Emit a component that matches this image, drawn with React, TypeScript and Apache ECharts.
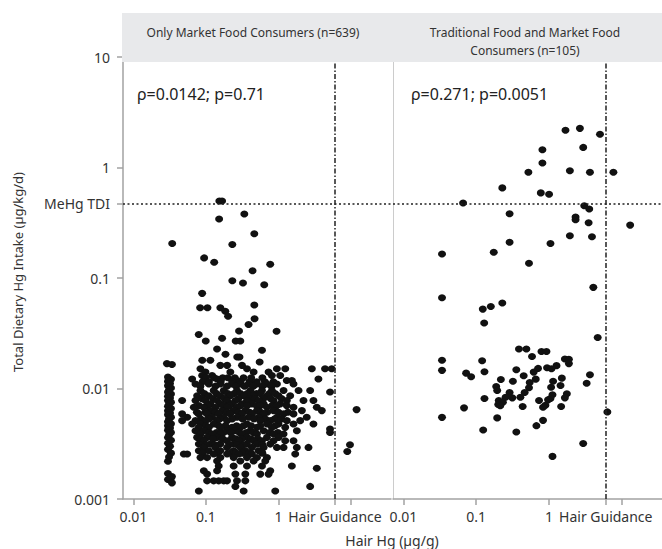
import React, { useEffect, useRef } from 'react';
import * as echarts from 'echarts';

// ---- reference values ----
const TDI = 0.47; // MeHg TDI (µg/kg/d)
const HAIR_GUIDANCE = 6; // µg/g
const yTickValues = [0.001, 0.01, 0.1, TDI, 1, 10];
const xLabelValues = [0.01, 0.1, 1, HAIR_GUIDANCE];
const xTickValues = [0.01, 0.1, 1, HAIR_GUIDANCE, 10];
const panelTitles = [['Only Market Food Consumers (n=639)'], ['Traditional Food and Market Food', 'Consumers (n=105)']];
const correlationTexts = ['ρ=0.0142; p=0.71', 'ρ=0.271; p=0.0051'];
const xTitle = 'Hair Hg (µg/g)';
const yTitle = 'Total Dietary Hg Intake (µg/kg/d)';

// ---- left panel: Only Market Food Consumers ----
const leftSparseHair = [0.153, 0.167, 0.338, 0.152, 0.464, 0.0343, 0.231, 0.0944, 0.13, 0.769, 0.439, 0.231, 0.324, 0.636, 0.0887, 0.0832, 0.105, 0.158, 0.185, 0.202, 0.464, 0.468, 0.387, 0.286, 0.94, 0.0796, 0.0994, 0.167, 0.257, 0.298, 0.1425, 0.592, 11.9, 9.66, 8.87];
const leftSparseIntake = [0.498, 0.498, 0.38, 0.342, 0.251, 0.205, 0.201, 0.152, 0.139, 0.133, 0.1165, 0.0945, 0.09, 0.087, 0.0726, 0.0537, 0.0537, 0.0537, 0.0501, 0.0451, 0.0569, 0.0427, 0.038, 0.0332, 0.033, 0.0308, 0.0269, 0.0285, 0.0269, 0.0269, 0.0228, 0.0222, 0.00644, 0.0031, 0.00269];

const leftStripeIntake = [0.0168, 0.0165, 0.0127, 0.0121, 0.0116, 0.0111, 0.0106, 0.0101, 0.0097, 0.0093, 0.0089, 0.0085, 0.0082, 0.0078, 0.0075, 0.0072, 0.0069, 0.0066, 0.0063, 0.006, 0.0058, 0.0055, 0.0053, 0.005, 0.0048, 0.0046, 0.0044, 0.0042, 0.004, 0.0038, 0.0036, 0.0034, 0.0032, 0.003, 0.0028, 0.0026, 0.0024, 0.0022, 0.0017, 0.0016, 0.00155, 0.0015, 0.0014];
const leftStripeHair = [0.029, 0.034, 0.03, 0.033, 0.03, 0.032, 0.03, 0.033, 0.031, 0.03, 0.033, 0.03, 0.032, 0.03, 0.033, 0.031, 0.03, 0.033, 0.03, 0.032, 0.03, 0.033, 0.031, 0.03, 0.033, 0.03, 0.032, 0.03, 0.033, 0.031, 0.03, 0.033, 0.03, 0.032, 0.03, 0.033, 0.031, 0.03, 0.03, 0.034, 0.033, 0.03, 0.034];

const leftRowIntake = [0.0204, 0.0193, 0.018, 0.0174, 0.0162, 0.0151, 0.0141, 0.0131, 0.0125, 0.0122, 0.0118, 0.0115, 0.011, 0.0105, 0.00959, 0.0093, 0.009, 0.0086, 0.0081, 0.00778, 0.00726, 0.007, 0.00677, 0.00631, 0.0061, 0.00589, 0.00549, 0.0053, 0.00512, 0.00477, 0.0046, 0.00445, 0.0043, 0.00415, 0.004, 0.004, 0.00387, 0.00361, 0.0035, 0.00337, 0.00314, 0.0031, 0.00293, 0.00273, 0.0026, 0.00255, 0.00237, 0.00221, 0.00199, 0.0019, 0.0018, 0.00168, 0.00146, 0.0013, 0.00118];
const leftRowHair = [
  [0.186],
  [0.27, 0.29],
  [0.089, 0.115],
  [0.55],
  [0.158, 0.196, 0.314],
  [0.084, 0.368, 0.95, 1.24, 2.88, 4.38, 5.41],
  [0.0985, 0.217, 0.454, 0.73],
  [0.0887, 0.1216, 0.811, 1.056],
  [0.1, 0.13, 0.17, 0.2, 0.25, 0.33, 0.42, 0.6],
  [0.0646, 0.1425, 3.55],
  [0.268, 1.3, 1.53],
  [0.09, 0.11, 0.16, 0.23, 0.3, 0.4, 0.5, 0.65, 0.85],
  [0.0718, 0.1095, 0.158, 0.229, 0.298, 0.388, 0.505, 0.693, 0.951, 1.61],
  [0.084, 0.135, 0.195, 0.26, 0.34, 0.45, 0.6, 0.8],
  [0.0841, 0.128, 0.176, 0.268, 0.409, 0.592, 0.811, 1.174, 1.89, 2.73],
  [5.13],
  [0.095, 0.14, 0.2, 0.245, 0.3, 0.37, 0.5, 0.56, 0.75, 0.9],
  [0.0757, 0.1095, 0.158, 0.217, 0.331, 0.454, 0.693, 1.0, 1.449],
  [0.088, 0.125, 0.18, 0.28, 0.4, 0.47, 0.62, 0.78, 1.1],
  [0.047, 0.0718, 0.0985, 0.1425, 0.1955, 0.2545, 0.368, 0.532, 0.855, 1.304, 2.21, 3.03],
  [0.1154, 0.158, 0.229, 0.314, 0.431, 0.624, 1.056],
  [0.08, 0.105, 0.175, 0.21, 0.3, 0.37, 0.5, 0.56, 0.82, 0.95, 1.3],
  [0.0681, 0.0935, 0.135, 0.1955, 0.268, 0.693, 1.61, 3.37],
  [0.1154, 0.167, 0.241, 0.349, 0.505, 0.855, 2.1, 3.95],
  [0.075, 0.098, 0.135, 0.195, 0.28, 0.4, 0.57, 0.7, 1.0, 1.35],
  [0.047, 0.0798, 0.1038, 0.15, 0.217, 0.314, 0.431, 0.624, 1.174, 1.61],
  [0.0552, 0.1216, 0.176, 0.268, 0.388, 0.532, 0.951, 2.45],
  [0.085, 0.11, 0.155, 0.23, 0.32, 0.46, 0.66, 0.88, 1.1],
  [0.047, 0.0718, 0.0985, 0.1425, 0.1955, 0.561, 0.77, 1.304, 1.99],
  [0.0646, 0.0841, 0.128, 0.368, 0.693, 1.0, 1.61, 3.03],
  [0.1, 0.15, 0.185, 0.265, 0.33, 0.42, 0.56, 0.9],
  [0.0798, 0.1095, 0.158, 0.229, 0.298, 0.505, 0.811, 1.237],
  [5.13],
  [0.0718, 0.0935, 0.1955, 0.2545, 0.409, 0.624, 1.79],
  [5.13],
  [0.11, 0.14, 0.175, 0.22, 0.29, 0.36, 0.45, 0.75, 0.98],
  [0.0841, 0.1216, 0.158, 0.314, 0.505, 0.855, 1.174],
  [0.0757, 0.1038, 0.1425, 0.229, 0.368, 0.693, 1.0],
  [0.085, 0.125, 0.17, 0.26, 0.31, 0.42, 0.52],
  [0.0935, 0.1955, 0.283, 0.454, 0.592, 0.855, 1.237, 1.61],
  [0.0798, 0.1154, 0.158, 0.241, 0.368, 0.505, 0.77],
  [0.1, 0.135, 0.21, 0.27, 0.33, 0.6],
  [0.0935, 0.135, 0.1955, 0.298, 0.431, 0.624, 0.951, 1.174, 1.79, 2.59],
  [0.0798, 0.1095, 0.158, 0.241, 0.349, 0.532],
  [0.09, 0.145, 0.22, 0.26, 0.32, 0.4, 0.6],
  [0.0496, 0.0552, 0.128, 0.1955, 0.283, 0.431, 1.7],
  [0.0841, 0.1038, 0.158, 0.241, 0.368, 0.505, 0.693],
  [0.1425, 0.298, 0.454, 0.657],
  [0.15, 0.241, 0.368, 0.592, 1.528],
  [3.37],
  [0.0935, 0.1425, 0.77],
  [0.1038, 0.2545, 0.349, 0.561, 0.73],
  [0.1038, 0.128, 0.15, 0.176, 0.1955, 0.268, 0.349],
  [0.2545, 2.73],
  [0.0798, 0.331, 0.902],
];

// ---- right panel: Traditional Food and Market Food Consumers ----
const rightHair = [1.68, 2.65, 5.0, 2.94, 0.81, 0.81, 0.52, 1.93, 3.64, 7.64, 0.228, 0.77, 1.0, 0.066, 3.04, 3.56, 0.287, 2.31, 2.31, 3.49, 12.97, 1.93, 3.88, 0.287, 1.045, 0.0339, 0.174, 0.53, 4.05, 0.0339, 0.123, 0.1585, 0.228, 0.1285, 4.65, 0.386, 0.488, 0.786, 0.921, 0.583, 0.0339, 0.1205, 1.648, 1.87, 1.87, 1.265, 0.938, 1.079, 0.0339, 0.1297, 0.0727, 0.0851, 0.355, 0.448, 0.705, 0.615, 3.64, 3.28, 1.497, 1.135, 0.656, 0.3187, 0.2178, 0.542, 0.53, 1.436, 1.066, 0.188, 0.194, 0.287, 0.462, 1.754, 1.114, 0.2528, 0.3128, 0.4035, 1.648, 1.045, 0.1297, 0.728, 0.968, 0.204, 0.232, 0.2005, 0.2138, 0.891, 0.826, 0.4337, 1.464, 0.068, 6.31, 0.0339, 0.194, 0.826, 0.67, 0.1245, 0.355, 2.94, 1.114];
const rightIntake = [2.17, 2.26, 2.0, 1.52, 1.45, 1.1, 0.906, 0.933, 0.906, 0.906, 0.654, 0.589, 0.572, 0.478, 0.451, 0.421, 0.382, 0.356, 0.337, 0.316, 0.301, 0.241, 0.236, 0.211, 0.205, 0.165, 0.171, 0.136, 0.0823, 0.0662, 0.0523, 0.0553, 0.0593, 0.0392, 0.0289, 0.0228, 0.0228, 0.0216, 0.0216, 0.0195, 0.018, 0.01786, 0.01846, 0.01836, 0.0168, 0.0161, 0.01543, 0.0151, 0.01459, 0.01419, 0.01377, 0.01277, 0.0148, 0.01304, 0.0152, 0.01407, 0.01333, 0.01117, 0.01241, 0.01165, 0.01215, 0.01165, 0.01207, 0.01135, 0.01014, 0.01064, 0.01028, 0.01042, 0.0096, 0.0092, 0.0092, 0.00895, 0.00877, 0.00834, 0.00823, 0.00834, 0.00823, 0.00811, 0.00811, 0.00778, 0.00789, 0.00778, 0.0075, 0.00716, 0.00697, 0.00705, 0.00676, 0.00686, 0.00686, 0.00668, 0.00614, 0.00548, 0.00542, 0.00515, 0.00461, 0.00421, 0.00404, 0.00318, 0.00243];

const FONT = '"Noto Sans", "Open Sans", sans-serif';
const TEXT = '#333333';
const AXIS = '#a2a2a2';

function zip(xs: number[], ys: number[]): number[][] {
  const out: number[][] = [];
  const n = Math.min(xs.length, ys.length);
  for (let i = 0; i < n; i++) out.push([xs[i], ys[i]]);
  return out;
}

function buildLeft(): number[][] {
  const pts = [...zip(leftSparseHair, leftSparseIntake), ...zip(leftStripeHair, leftStripeIntake)];
  leftRowIntake.forEach((y, i) => {
    (leftRowHair[i] || []).forEach((x) => pts.push([x, y]));
  });
  return pts;
}

const near = (v: number, t: number) => Math.abs(v - t) < 1e-6 * Math.max(1, t);
const fmtNum = (v: number) => String(+Number(v).toPrecision(3));

export default function App() {
  const ref = useRef<HTMLDivElement>(null);
  useEffect(() => {
    if (!ref.current) return;
    const chart = echarts.init(ref.current, undefined, { renderer: 'svg' });

    const grids = [
      { left: 123, top: 57, width: 268, height: 442 },
      { left: 393, top: 57, width: 269, height: 442 },
    ];

    const xAxes = [0, 1].map((i) => ({
      type: 'log',
      logBase: 10,
      gridIndex: i,
      min: 0.0072,
      max: 35.5,
      axisLine: { show: true, onZero: false, lineStyle: { color: AXIS, width: 1.5 } },
      axisTick: { show: true, length: 6, customValues: xTickValues, lineStyle: { color: AXIS, width: 1.5 } },
      axisLabel: {
        customValues: xLabelValues,
        margin: 10,
        color: TEXT,
        fontSize: 14,
        fontFamily: FONT,
        formatter: (v: number) => (near(v, HAIR_GUIDANCE) ? 'Hair Guidance' : fmtNum(v)),
      },
      splitLine: { show: false },
      minorTick: { show: false },
    }));

    const yAxes = [
      {
        type: 'log',
        logBase: 10,
        gridIndex: 0,
        min: 0.001,
        max: 10,
        axisLine: { show: true, onZero: false, lineStyle: { color: AXIS, width: 1.5 } },
        axisTick: { show: true, length: 6, customValues: yTickValues, lineStyle: { color: AXIS, width: 1.5 } },
        axisLabel: {
          customValues: yTickValues,
          margin: 13,
          color: TEXT,
          fontSize: 14,
          fontFamily: FONT,
          formatter: (v: number) => (near(v, TDI) ? 'MeHg TDI' : fmtNum(v)),
        },
        splitLine: { show: false },
      },
      {
        type: 'log',
        logBase: 10,
        gridIndex: 1,
        min: 0.001,
        max: 10,
        axisLine: { show: true, onZero: false, lineStyle: { color: '#cccccc', width: 1 } },
        axisTick: { show: false },
        axisLabel: { show: false },
        splitLine: { show: false },
      },
    ];

    const markLine = {
      silent: true,
      symbol: 'none',
      label: { show: false },
      emphasis: { disabled: true },
      data: [
        { yAxis: TDI, lineStyle: { color: '#222', width: 1.5, type: [2, 2.5] } },
        { xAxis: HAIR_GUIDANCE, lineStyle: { color: '#222', width: 1.5, type: [5, 2, 1.5, 2] } },
      ],
    };

    const scatterBase = {
      type: 'scatter',
      symbol: 'circle',
      symbolSize: [8, 7],
      itemStyle: { color: '#111111', opacity: 1 },
      emphasis: { disabled: true },
      z: 3,
    };

    const graphics: any[] = [
      {
        type: 'rect',
        shape: { x: 122, y: 13, width: 540, height: 49 },
        style: { fill: '#e8e9eb' },
        z: 100,
      },
    ];
    const titleCenters = [253, 525];
    panelTitles.forEach((lines, i) => {
      lines.forEach((t, j) => {
        graphics.push({
          type: 'text',
          x: titleCenters[i],
          y: 32 + j * 18.5,
          z: 101,
          style: { text: t, fill: TEXT, font: `12px ${FONT}`, align: 'center', verticalAlign: 'middle' },
        });
      });
    });
    const corrX = [137, 411];
    correlationTexts.forEach((t, i) => {
      graphics.push({
        type: 'text',
        x: corrX[i],
        y: 94,
        z: 101,
        style: { text: t, fill: '#222', font: `16px ${FONT}`, align: 'left', verticalAlign: 'middle' },
      });
    });
    graphics.push({
      type: 'text',
      x: 392,
      y: 540,
      z: 101,
      style: { text: xTitle, fill: TEXT, font: `14px ${FONT}`, align: 'center', verticalAlign: 'middle' },
    });
    graphics.push({
      type: 'text',
      x: 18,
      y: 272,
      rotation: Math.PI / 2,
      z: 101,
      style: { text: yTitle, fill: TEXT, font: `13px ${FONT}`, align: 'center', verticalAlign: 'middle' },
    });

    chart.setOption({
      animation: false,
      backgroundColor: '#ffffff',
      grid: grids.map((g) => ({ ...g, containLabel: false, outerBoundsMode: 'none' })),
      xAxis: xAxes,
      yAxis: yAxes,
      series: [
        { ...scatterBase, name: 'market', xAxisIndex: 0, yAxisIndex: 0, data: buildLeft(), markLine },
        { ...scatterBase, name: 'traditional', xAxisIndex: 1, yAxisIndex: 1, data: zip(rightHair, rightIntake), markLine },
      ],
      graphic: graphics,
    } as any);

    return () => chart.dispose();
  }, []);

  return <div ref={ref} style={{ position: 'fixed', left: 0, top: 0, width: 662, height: 549 }} />;
}
